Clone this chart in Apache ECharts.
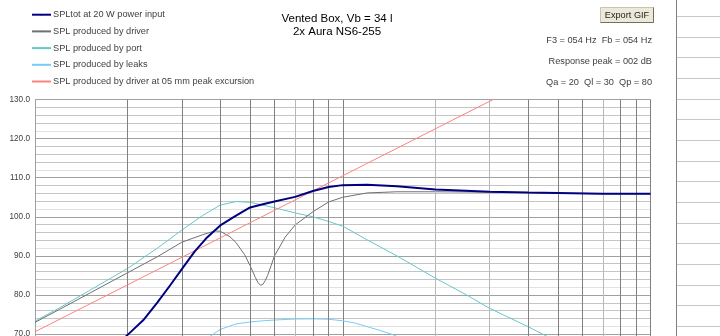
<!DOCTYPE html>
<html><head><meta charset="utf-8">
<script src="https://cdn.jsdelivr.net/npm/echarts@6/dist/echarts.min.js"></script>
<style>html,body{margin:0;padding:0;background:#fff}#c{width:720px;height:336px}</style>
</head><body><div id="c"></div>
<script>
// ---- data ----
const seriesNames = [
  'SPLtot at 20 W power input',
  'SPL produced by driver',
  'SPL produced by port',
  'SPL produced by leaks',
  'SPL produced by driver at 05 mm peak excursion'
];
const totFreq = [18,20,22.5,25,27.5,30,33,36,40,45,50,55,60,70,80,90,100,120,150,200,300,400,500,700,1000];
const totSPL  = [66.5,69.8,73.6,78.1,82.5,86.6,91.1,94.5,97.8,100.3,102.4,103.2,103.9,105.1,106.6,107.6,108.1,108.2,107.8,107.0,106.4,106.2,106.1,105.9,105.9];

const drvFreq = [10,12,15,20,25,30,35,38.5,40,43,45,48,50,52,53,54,55,56,57,58.5,60,65,70,80,90,100,120,150,200,300,400,500,700,1000];
const drvSPL  = [73.0,76.3,80.4,85.7,89.8,93.5,95.4,96.4,96.3,94.9,93.4,90.3,87.5,84.5,83.2,82.5,82.7,83.7,85.0,87.5,90.0,94.8,97.9,101.3,103.8,105.0,106.1,106.4,106.4,106.3,106.2,106.0,105.9,105.9];

const portFreq = [10,12,15,20,25,30,35,40,45,50,55,60,70,80,90,100,120,150,200,250,300,400,500,700,1000];
const portSPL  = [73.3,76.7,81.1,86.8,92.0,96.6,100.3,103.0,103.9,103.7,103.0,102.3,101.0,100.0,98.8,97.6,94.1,90.0,84.3,80.2,76.6,71.9,68.0,62.3,56.2];

const leakFreq = [30,35,38,40,45,50,55,60,70,80,90,100,110,120,130,145,170,200];
const leakSPL  = [64.0,68.0,70.0,71.2,72.6,73.1,73.4,73.6,73.85,73.9,73.8,73.4,72.8,71.9,71.1,69.9,67.5,65.0];

const excFreq = [10,100,1000];
const excSPL  = [70.6,110.5,150.4];

const gridFreqDark  = [20,30,40,50,60,80,90,400,500,600,800,900];
const gridFreqLight = [70,200,300,700];

const xMin = 10, xMax = 1000;
const yMin = 60, yMax = 130, yStep = 2, yLabelStep = 10;

const titleLines = ['Vented Box, Vb = 34 l', '2x Aura NS6-255'];
const infoLines = ['F3 = 054 Hz  Fb = 054 Hz', 'Response peak = 002 dB', 'Qa = 20  Ql = 30  Qp = 80'];
const buttonText = 'Export GIF';
// --------------------------------------

const FONT = '"Liberation Sans", Arial, sans-serif';
const pairs = (f, v) => f.map((x, i) => [x, v[i]]);
const colors = ['#000080', '#707070', '#66c8c8', '#77ccf5', '#ff8080'];
const widths = [2, 1, 1, 1, 1];
const datas = [pairs(totFreq, totSPL), pairs(drvFreq, drvSPL), pairs(portFreq, portSPL), pairs(leakFreq, leakSPL), pairs(excFreq, excSPL)];
const zs = [6, 4, 3, 3, 5];

const series = seriesNames.map((n, i) => ({
  type: 'line', name: n, data: datas[i], symbol: 'none', silent: true, clip: true,
  lineStyle: { color: colors[i], width: widths[i] }, itemStyle: { color: colors[i] }, z: zs[i]
}));
series.push({
  type: 'line', data: [], silent: true, z: 1,
  markLine: {
    silent: true, symbol: 'none', animation: false, label: { show: false },
    lineStyle: { type: 'solid', width: 1, color: '#808080' },
    data: gridFreqDark.map(f => ({ xAxis: f, lineStyle: { color: '#808080', type: 'solid', width: 1 } }))
      .concat(gridFreqLight.map(f => ({ xAxis: f, lineStyle: { color: '#b8b8b8', type: 'solid', width: 1 } })))
  }
});

const graphic = [];
titleLines.forEach((t, i) => graphic.push({
  type: 'text', x: 337, y: 18.5 + i * 13.5, silent: true,
  style: { text: t, align: 'center', verticalAlign: 'middle', fontSize: 11.5, fontFamily: FONT, fill: '#000' }
}));
infoLines.forEach((t, i) => graphic.push({
  type: 'text', x: 652, y: 40.5 + i * 20.8, silent: true,
  style: { text: t, align: 'right', verticalAlign: 'middle', fontSize: 9.2, fontFamily: FONT, fill: '#404040' }
}));
// button
graphic.push({ type: 'rect', shape: { x: 600.5, y: 7.5, width: 53, height: 15 }, style: { fill: '#ece9d8', stroke: '#c8c4b0', lineWidth: 1 }, silent: true });
graphic.push({ type: 'polyline', shape: { points: [[600.5, 22.5], [653.5, 22.5], [653.5, 7.5]] }, style: { stroke: '#716f64', lineWidth: 1, fill: null }, silent: true });
graphic.push({ type: 'text', x: 627, y: 15, silent: true, style: { text: buttonText, align: 'center', verticalAlign: 'middle', fontSize: 9.2, fontFamily: FONT, fill: '#222' } });
// right side panel (decoration)
graphic.push({ type: 'line', shape: { x1: 676.5, y1: 0, x2: 676.5, y2: 336 }, style: { stroke: '#808080', lineWidth: 1 }, silent: true });
for (let k = 0; k < 16; k++) {
  const yy = Math.round(16 + k * 20.67) + 0.5;
  graphic.push({ type: 'line', shape: { x1: 677, y1: yy, x2: 720, y2: yy }, style: { stroke: '#c8c8c8', lineWidth: 1 }, silent: true });
}

const chart = echarts.init(document.getElementById('c'), null, { renderer: 'canvas' });
chart.setOption({
  animation: false,
  backgroundColor: '#fff',
  grid: { left: 35, top: 99.5, width: 615.5, height: 273.7, containLabel: false, outerBoundsMode: 'none' },
  legend: {
    orient: 'vertical', left: 31, top: 9.7, padding: 0, itemWidth: 19, itemHeight: 2, itemGap: 6.7,
    selectedMode: false, data: seriesNames,
    textStyle: { fontSize: 9.2, color: '#404040', fontFamily: FONT, lineHeight: 10, padding: [0, 0, 0, -3] }
  },
  xAxis: {
    type: 'log', logBase: 10, min: xMin, max: xMax,
    axisLine: { show: false }, axisTick: { show: false }, axisLabel: { show: false },
    splitLine: { show: true, lineStyle: { color: '#808080', width: 1 } }
  },
  yAxis: {
    type: 'value', min: yMin, max: yMax, interval: yStep,
    axisLine: { show: true, lineStyle: { color: '#a0a0a0' } }, axisTick: { show: false },
    axisLabel: { formatter: v => (Math.round(v) % yLabelStep === 0 ? v.toFixed(1) : ''), fontSize: 8.2, color: '#404040', margin: 5, fontFamily: FONT },
    splitLine: { show: true, lineStyle: { color: ['#a0a0a0', '#e2e2e2', '#c4c4c4', '#c4c4c4', '#c4c4c4'], width: 1 } }
  },
  series: series,
  graphic: graphic
});
</script>
</body></html>
